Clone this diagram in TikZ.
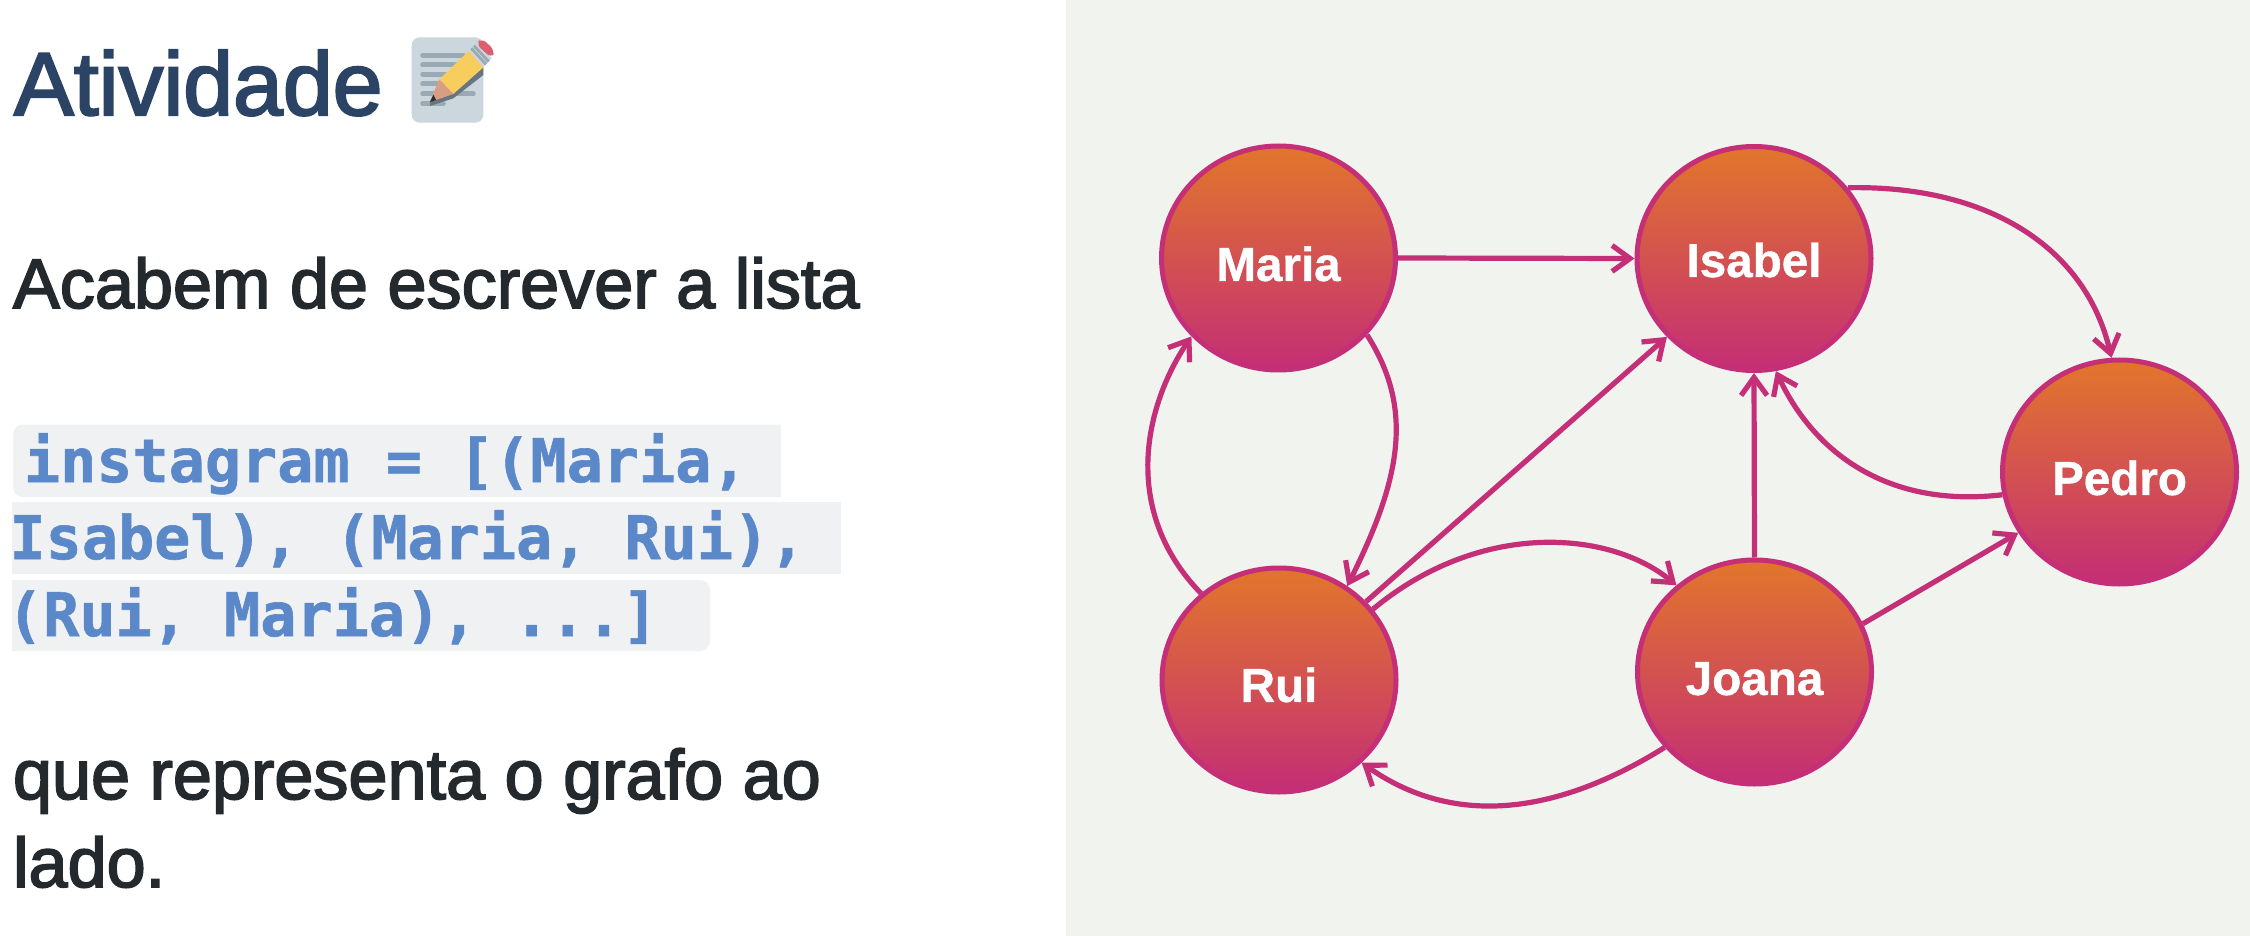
\documentclass[tikz,border=0pt]{standalone}
\usepackage{fontspec}
\setmainfont[BoldFeatures={FakeBold=0.8}]{Liberation Sans}
\setmonofont[BoldFeatures={FakeBold=1}]{DejaVu Sans Mono}
\newfontfamily\uifont[FakeBold=2.4]{Liberation Sans}
\usetikzlibrary{arrows.meta,shapes.geometric}
\definecolor{panelbg}{HTML}{F1F3EE}
\definecolor{titleblue}{HTML}{2B4364}
\definecolor{inkdark}{HTML}{24292E}
\definecolor{codeblue}{HTML}{5A88C9}
\definecolor{codebg}{HTML}{EFF1F3}
\definecolor{magentaedge}{HTML}{C42F78}
\definecolor{nodetop}{HTML}{E2762B}
\definecolor{nodemid}{HTML}{D1504A}
\definecolor{nodebot}{HTML}{C42E75}
\definecolor{paperc}{HTML}{CCD6DD}
\definecolor{linec}{HTML}{99AAB5}
\definecolor{shadowc}{HTML}{66757F}
\definecolor{woodc}{HTML}{D99E82}
\definecolor{yellowc}{HTML}{F7CD5E}
\definecolor{eraserc}{HTML}{DD5F6E}
\definecolor{leadc}{HTML}{292F33}
\tikzset{
  person/.style={ellipse,draw=magentaedge,line width=2.5pt,inner sep=0pt,
    minimum width=234pt/2,minimum height=224pt/2,
    top color=nodetop,middle color=nodemid,bottom color=nodebot,
    text=white,font=\fontsize{23.8pt}{24pt}\selectfont\bfseries,
    text height=17.5pt,text depth=0pt},
  link/.style={draw=magentaedge,line width=2.6pt,
    -{Straight Barb[length=9pt,width=13pt]}},
  plain/.style={anchor=base west,inner sep=0pt,outer sep=0pt,text=inkdark,
    font=\uifont\fontsize{35.1pt}{44pt}\selectfont},
  codeline/.style={anchor=base west,inner sep=0pt,outer sep=0pt,text=codeblue,
    font=\ttfamily\bfseries\fontsize{30.05pt}{36pt}\selectfont},
  codefill/.style={fill=codebg},
}
\begin{document}
\begin{tikzpicture}[x=0.5pt,y=-0.5pt]
\useasboundingbox (0,0) rectangle (2250,936);
\fill[white] (0,0) rectangle (2250,936);
\fill[panelbg] (1066,0) rectangle (2250,936);

% left column
\node[plain,text=titleblue,font=\uifont\fontsize{44.8pt}{50pt}\selectfont] (title) at (14,115) {Atividade};

% memo emoji
\begin{scope}[shift={(400,30)},x=0.16667pt,y=-0.16667pt]
  \fill[paperc,rounded corners=4pt] (35,22) rectangle (250,278);
  \foreach \yy/\xe in {76/190,105/170,133/150,162/130,191/220,221/130}
    \draw[linec,line width=2.5pt,line cap=round] (68,\yy) -- (\xe,\yy);
  \fill[shadowc] (250,112) -- (250,135) -- (160,205) -- (90,228) -- (90,212) -- (160,190) -- cycle;
  \fill[yellowc] (118,148) -- (207,62) -- (250,112) -- (160,192) -- cycle;
  \fill[woodc] (118,148) -- (160,192) -- (108,210) -- (90,213) -- cycle;
  \fill[leadc] (100,194) -- (108,210) -- (90,216) -- cycle;
  \fill[paperc] (207,62) -- (230,40) -- (275,85) -- (250,112) -- cycle;
  \draw[linec,line width=1.4pt] (214,55) -- (258,103);
  \draw[linec,line width=1.4pt] (222,47) -- (266,95);
  \fill[eraserc,rounded corners=3pt] (228,42) -- (245,24) -- (285,62) -- (275,85) -- cycle;
\end{scope}

\node[plain] (lead) at (13,308) {Acabem de escrever a lista};

% inline code, wrapped on three lines
\fill[codefill] (781,424.5) -- (781,497) [rounded corners=5pt] -- (13,497) -- (13,424.5) [sharp corners] -- cycle;
\fill[codefill] (12,502) rectangle (841,574);
\fill[codefill] (12,580) [rounded corners=5pt] -- (710,580) -- (710,651) [sharp corners] -- (12,651) -- cycle;
\node[codeline] (code1) at (24,482) {instagram = [(Maria,};
\node[codeline] (code2) at (9.5,559) {Isabel), (Maria, Rui),};
\node[codeline] (code3) at (7,636) {(Rui, Maria), ...]};

\node[plain] (closing1) at (13,799) {que representa o grafo ao};
\node[plain] (closing2) at (13,887) {lado.};

% graph
\node[person] (maria)  at (1278.5,258) {\raisebox{-2.7pt}{Maria}};
\node[person] (isabel) at (1754,258.5) {\raisebox{-0.5pt}{Isabel}};
\node[person] (pedro)  at (2119.5,472) {\raisebox{-2.7pt}{Pedro}};
\node[person] (rui)    at (1279,680) {\raisebox{-2.2pt}{Rui}};
\node[person] (joana)  at (1754.5,672) {\raisebox{-2.7pt}{Joana}};

\draw[link] (maria.east) -- (isabel.west);
\draw[link] (maria.-41) .. controls (1415,410) and (1400,480) .. (rui.54);
\draw[link] (rui.132) .. controls (1120,510) and (1145,405) .. (maria.-138);
\draw[link] (rui.42) -- (isabel.-138);
\draw[link] (rui.37) .. controls (1480,520) and (1610,530) .. (joana.132);
\draw[link] (joana.-140) .. controls (1545,822) and (1445,822) .. (rui.-45);
\draw[link] (joana.north) -- (isabel.south);
\draw[link] (joana.24) -- (pedro.-149);
\draw[link] (isabel.37) .. controls (1985,185) and (2085,245) .. (pedro.94);
\draw[link] (pedro.-169) .. controls (1890,508) and (1815,455) .. (isabel.-79);
\end{tikzpicture}
\end{document}
